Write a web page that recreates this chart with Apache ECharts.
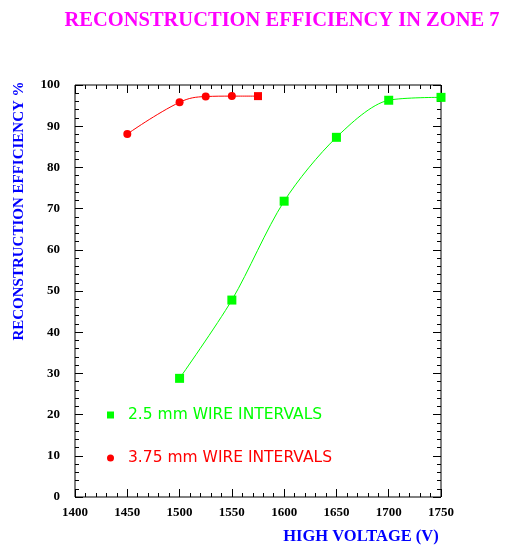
<!DOCTYPE html>
<html><head><meta charset="utf-8">
<script src="https://cdn.jsdelivr.net/npm/echarts@6/dist/echarts.min.js"></script>
<style>html,body{margin:0;padding:0;background:#fff}#c{width:508px;height:546px}</style>
</head><body><div id="c"></div>
<script>
const titleText = 'RECONSTRUCTION EFFICIENCY IN ZONE 7';
const xTitle = 'HIGH VOLTAGE (V)';
const yTitle = 'RECONSTRUCTION EFFICIENCY %';
const seriesNames = ['2.5 mm WIRE INTERVALS', '3.75 mm WIRE INTERVALS'];
const voltage25 = [1500, 1550, 1600, 1650, 1700, 1750];
const eff25 = [28.8, 47.8, 71.8, 87.3, 96.3, 97.0];
const voltage375 = [1450, 1500, 1525, 1550, 1575];
const eff375 = [88.1, 95.8, 97.2, 97.3, 97.3];
const symbols375 = ['circle', 'circle', 'circle', 'circle', 'rect'];

const serif = '"Liberation Serif", "Times New Roman", serif';
const labelStyle = {color: '#000', fontFamily: serif, fontWeight: 'bold', fontSize: 13};

// tick-only axes drawn on each side of the frame, ticks pointing inside
function tickAxis(isX, pos, interval, tickLen) {
  const base = isX ? {min: 1400, max: 1750} : {min: 0, max: 100};
  return Object.assign({type: 'value', position: pos, interval: interval,
    axisLine: {show: false, onZero: false},
    axisTick: {show: true, inside: true, length: tickLen, lineStyle: {color: '#000', width: 1}},
    splitLine: {show: false}, axisLabel: {show: false}}, base);
}

const chart = echarts.init(document.getElementById('c'), null, {renderer: 'canvas'});
chart.setOption({
  animation: false,
  backgroundColor: '#fff',
  title: {text: titleText, left: 277, top: 5, textAlign: 'center',
    textStyle: {color: '#ff00ff', fontFamily: serif, fontWeight: 'bold', fontSize: 20.5}},
  grid: {left: 75, right: 67, top: 85, bottom: 49, show: true, borderColor: '#000', borderWidth: 1, backgroundColor: 'transparent'},
  legend: {
    orient: 'vertical', left: 102, top: 402, itemWidth: 7, itemHeight: 7, itemGap: 27,
    textStyle: {fontFamily: '"DejaVu Sans", sans-serif', fontSize: 15.5, lineHeight: 16, padding: [0, 0, 0, 9]},
    data: [
      {name: seriesNames[0], icon: 'rect', textStyle: {color: '#00ff00'}},
      {name: seriesNames[1], icon: 'circle', textStyle: {color: '#ff0000'}}
    ]
  },
  xAxis: [
    {type: 'value', min: 1400, max: 1750, interval: 50, position: 'bottom',
     axisLine: {show: false, onZero: false}, axisTick: {show: false}, splitLine: {show: false},
     axisLabel: Object.assign({margin: 9, formatter: v => String(v)}, labelStyle)},
    tickAxis(true, 'bottom', 50, 8),
    tickAxis(true, 'bottom', 10, 4),
    tickAxis(true, 'top', 50, 8),
    tickAxis(true, 'top', 10, 4)
  ],
  yAxis: [
    {type: 'value', min: 0, max: 100, interval: 10, position: 'left',
     axisLine: {show: false, onZero: false}, axisTick: {show: false}, splitLine: {show: false},
     axisLabel: Object.assign({margin: 15, formatter: v => String(v)}, labelStyle)},
    tickAxis(false, 'left', 10, 8),
    tickAxis(false, 'left', 2, 4),
    tickAxis(false, 'right', 10, 8),
    tickAxis(false, 'right', 2, 4)
  ],
  graphic: [
    {type: 'text', x: 19, y: 211, rotation: Math.PI / 2,
     style: {text: yTitle, fill: '#0000ff', font: 'bold 15px ' + serif, textAlign: 'center', textVerticalAlign: 'middle'}},
    {type: 'text', x: 361, y: 537,
     style: {text: xTitle, fill: '#0000ff', font: 'bold 16.5px ' + serif, textAlign: 'center', textVerticalAlign: 'middle'}}
  ],
  series: [
    {name: seriesNames[0], type: 'line', smooth: 0.3, smoothConstraint: false, clip: false,
     xAxisIndex: 0, yAxisIndex: 0,
     data: voltage25.map((v, i) => [v, eff25[i]]),
     symbol: 'rect', symbolSize: 9,
     itemStyle: {color: '#00ff00'}, lineStyle: {color: '#00ff00', width: 1}},
    {name: seriesNames[1], type: 'line', smooth: 0.4, smoothConstraint: false, clip: false,
     xAxisIndex: 0, yAxisIndex: 0,
     data: voltage375.map((v, i) => ({value: [v, eff375[i]], symbol: symbols375[i]})),
     symbol: 'circle', symbolSize: 8,
     itemStyle: {color: '#ff0000'}, lineStyle: {color: '#ff0000', width: 1}}
  ]
});
</script></body></html>
